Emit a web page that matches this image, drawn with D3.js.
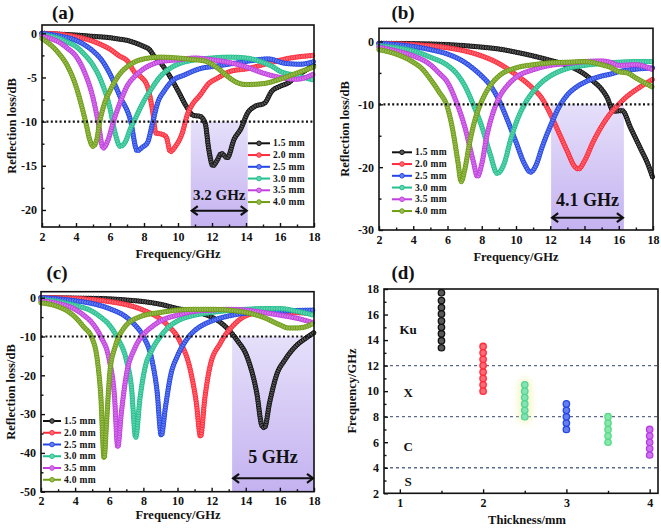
<!DOCTYPE html>
<html><head><meta charset="utf-8">
<script src="https://cdn.jsdelivr.net/npm/d3@7"></script>
<style>
body{margin:0;background:#fff}
svg{display:block}
text{font-family:"Liberation Serif","Times New Roman",serif;font-weight:bold;fill:#111}
</style>
</head><body>
<svg id="chart" width="661" height="530"></svg>
<script>
// ---------------- DATA ----------------
const thicknessLabels = ["1.5 mm","2.0 mm","2.5 mm","3.0 mm","3.5 mm","4.0 mm"];
const seriesColors = ["#111111","#ff2a3a","#2446e6","#22c08e","#c23ee0","#6e9e12"];

// Panel (a): [frequency GHz, reflection loss dB]
const a15 = [[2,0],[3,-0.1],[4,-0.2],[5,-0.35],[6,-0.5],[6.5,-0.65],[7,-0.8],[7.5,-1.1],[8,-1.5],[8.3,-1.8],[8.6,-2.6],[9,-3.4],[9.5,-4.8],[10,-6.5],[10.5,-8.3],[10.9,-9.3],[11.3,-9.4],[11.6,-10.2],[11.8,-13],[12.05,-15],[12.3,-14.4],[12.55,-13.6],[12.9,-14.1],[13.3,-12],[13.7,-10.8],[14.1,-9],[14.5,-8.3],[15.1,-7.9],[15.5,-6.6],[16,-6],[16.5,-5.6],[17,-4.8],[17.5,-4.2],[18,-3.6]];
const a20 = [[2,0],[3,-0.1],[4,-0.4],[5,-0.9],[5.5,-1.3],[6,-1.8],[6.5,-2.5],[7.1,-3.3],[7.4,-4.3],[7.8,-4.9],[8.2,-6],[8.5,-8.7],[8.7,-11.3],[9,-11.4],[9.3,-11.7],[9.55,-13.4],[9.85,-12.8],[10.25,-11.3],[10.55,-9.2],[10.8,-8.2],[11.3,-7],[11.8,-5.7],[12.3,-5.1],[13.1,-4.3],[14.1,-4],[15.3,-3.4],[16.6,-2.8],[18,-2.5]];
const a25 = [[2,0],[3,-0.3],[4,-0.8],[4.5,-1.3],[5,-2],[5.5,-3],[6,-4.6],[6.6,-7.2],[7.2,-9.8],[7.6,-13.3],[7.9,-12.9],[8.2,-12.4],[8.5,-10.2],[8.8,-7.9],[9.2,-6.5],[9.6,-5.5],[10.4,-4.7],[11.3,-4],[12.3,-3.7],[13.3,-3.4],[14.3,-3.1],[15.3,-2.9],[16.3,-3.4],[17.2,-3.5],[18,-3.2]];
const a30 = [[2,-0.2],[3,-0.6],[3.5,-1],[4,-1.5],[4.5,-2.4],[5,-3.6],[5.5,-5.5],[6,-8.5],[6.3,-11.3],[6.6,-12.8],[6.9,-12.3],[7.2,-10.8],[7.5,-9.6],[7.9,-8],[8.4,-6.4],[9,-4.8],[9.5,-4],[10,-3.5],[11,-3],[12,-2.8],[13,-2.7],[14,-2.8],[15,-3.3],[15.5,-3.7],[16,-4.3],[17,-4.8],[18,-5.3]];
const a35 = [[2,-0.3],[2.5,-0.6],[3,-1],[3.5,-1.7],[4,-2.6],[4.5,-4.4],[5,-7.3],[5.3,-10],[5.6,-13],[5.9,-12],[6.2,-10],[6.6,-7.8],[7,-6],[7.5,-4.8],[8,-4],[8.5,-3.5],[9,-3.2],[10,-3],[11,-2.8],[12,-3],[13,-3.3],[14,-3.8],[15,-4.5],[16,-5],[17,-5.2],[18,-4.6]];
const a40 = [[2,-0.6],[2.5,-1.3],[3,-2.3],[3.5,-3.7],[4,-6],[4.3,-8],[4.6,-10.3],[4.8,-12],[5,-12.8],[5.2,-12.2],[5.4,-10],[5.7,-7.8],[6,-6.5],[6.5,-4.8],[7,-3.8],[7.5,-3.2],[8,-2.9],[9,-2.7],[10,-2.8],[11,-3],[11.5,-3.1],[12,-3.5],[12.5,-4.2],[13,-5],[13.5,-5.6],[14,-5.8],[15,-5.7],[16,-5.2],[17,-4.5],[18,-3.8]];

// Panel (b)
const b15 = [[2,-0.3],[4,-0.35],[6,-0.5],[8,-0.9],[9,-1.2],[10,-1.7],[11,-2.3],[12,-3],[13,-3.8],[13.5,-4.4],[14,-5.2],[14.5,-6.3],[15,-7.6],[15.3,-8.8],[15.7,-11.1],[16.2,-11],[16.7,-13.8],[17.3,-17.2],[17.7,-19.5],[18,-21.8]];
const b20 = [[2,-0.3],[4,-0.5],[6,-1],[7,-1.5],[8,-2.3],[9,-3.5],[10,-5.3],[10.5,-6.3],[11,-7.5],[11.5,-9],[12,-11.5],[12.5,-14.5],[13,-17.5],[13.4,-19.8],[13.65,-20.3],[14,-19],[14.5,-16],[15,-13.5],[15.5,-11.5],[16,-10],[16.5,-8.7],[17,-7.7],[17.5,-6.8],[18,-6]];
const b25 = [[2,-0.3],[3,-0.5],[4,-0.8],[5,-1.3],[6,-2],[7,-3.3],[7.5,-4.3],[8,-5.5],[8.5,-7],[9,-9.3],[9.5,-12.5],[10,-16],[10.5,-19.5],[10.85,-20.8],[11.2,-19.5],[11.5,-17],[12,-13.5],[12.5,-10.5],[13,-8.5],[13.5,-7.3],[14,-6.5],[15,-5.5],[15.5,-5.2],[16,-4.8],[17,-4.4],[18,-4.2]];
const b30 = [[2,-0.7],[3,-1],[4,-1.5],[5,-2.5],[6,-3.8],[6.5,-5],[7,-7],[7.5,-10],[8,-13.5],[8.5,-18],[8.9,-21],[9.3,-19.5],[9.7,-15.5],[10,-13],[10.5,-10],[11,-8],[11.5,-6.5],[12,-5.5],[13,-4.3],[14,-3.8],[15,-3.5],[16,-3.3],[17,-3.2],[18,-3.2]];
const b35 = [[2,-0.9],[3,-1.5],[4,-2.3],[5,-3.7],[5.5,-5],[6,-6.5],[6.5,-9.5],[7,-13.5],[7.5,-19],[7.75,-21.5],[8,-19.5],[8.3,-15],[8.7,-11],[9,-9],[9.5,-7],[10,-5.7],[11,-4.5],[12,-3.8],[13,-3.5],[14,-3.2],[15,-3.1],[15.5,-3.3],[16,-3.8],[17,-3.7],[18,-4.5]];
const b40 = [[2,-1.3],[3,-2],[4,-3.3],[4.5,-4.3],[5,-6],[5.5,-8],[6,-10.5],[6.3,-14],[6.6,-19],[6.8,-22.3],[7,-20.5],[7.3,-16],[7.6,-12.5],[8,-9.5],[8.5,-7],[9,-5.5],[10,-4.2],[11,-3.7],[12,-3.4],[13,-3.3],[14,-3.2],[15,-3.7],[15.5,-4.1],[16,-4.8],[16.5,-5],[17,-5.8],[18,-7.3]];

// Panel (c)
const c15 = [[2,0],[4,-0.1],[6,-0.3],[7,-0.6],[8,-1],[9,-1.7],[10,-2.8],[11,-3.6],[12,-5],[12.5,-6.3],[13,-8.3],[13.5,-11],[14.1,-15.5],[14.65,-24.7],[14.95,-33],[15.1,-33.5],[15.4,-27],[15.8,-20],[16.3,-16],[17,-12.2],[17.5,-10.5],[18,-9]];
const c20 = [[2,0],[4,-0.2],[5,-0.5],[6,-1],[7,-1.8],[8,-3.2],[9,-5.5],[9.4,-7],[10.15,-11.3],[10.75,-18.6],[11.1,-27],[11.35,-35.8],[11.6,-26],[11.9,-17.8],[12.5,-11.8],[13.3,-7],[14.1,-4.5],[15.3,-3.6],[16.5,-3.8],[18,-4]];
const c25 = [[2,0],[3,-0.3],[4,-0.8],[5,-1.5],[6,-2.8],[7,-5],[7.5,-7],[8,-10],[8.5,-16],[8.8,-24],[9.05,-35.5],[9.3,-28],[9.6,-20],[10,-15],[10.5,-11],[11,-8.5],[11.5,-7],[12,-6],[13,-4.7],[14,-4],[15,-3.8],[16,-3.5],[17,-3.3],[18,-3.2]];
const c30 = [[2,-0.5],[3,-1],[4,-2],[5,-3.5],[5.5,-5],[6,-7],[6.5,-10.5],[7,-16],[7.3,-23],[7.55,-36],[7.8,-26],[8.1,-18],[8.5,-13.5],[9,-10],[9.5,-7.5],[10,-6],[11,-4.5],[12,-3.8],[13,-3.3],[14,-3],[15,-2.8],[16,-2.8],[17,-3.5],[18,-4.5]];
const c35 = [[2,-0.8],[3,-1.5],[4,-3],[4.5,-4.5],[5,-6.5],[5.5,-10],[6,-16],[6.3,-25],[6.5,-38.5],[6.7,-30],[7,-20],[7.5,-13],[8,-9.5],[8.5,-7.5],[9,-6],[10,-4.5],[11,-3.5],[12,-3.2],[13,-3],[14,-3.2],[15,-3.8],[16,-4.5],[17,-5.3],[18,-6.5]];
const c40 = [[2,-1.3],[3,-2.3],[3.5,-3.3],[4,-5],[4.5,-7.5],[5,-10.5],[5.3,-16],[5.5,-25],[5.7,-41.3],[5.85,-31.5],[6.05,-18.6],[6.35,-12.6],[6.85,-7.9],[7.8,-4.9],[9,-3.8],[10,-3.2],[11,-3],[12,-3],[13,-3.2],[14,-3.8],[15,-5],[16,-7],[16.5,-7.8],[17,-7.8],[17.5,-7.5],[18,-6.5]];

// Effective-bandwidth annotations [start GHz, end GHz]
const bandA = [10.75, 14.1], bandLabelA = "3.2 GHz";
const bandB = [12.05, 16.3], bandLabelB = "4.1 GHz";
const bandC = [13.2, 18.0], bandLabelC = "5 GHz";

// Panel (d)
const dThickness = [1.5, 2.0, 2.5, 3.0, 3.5, 4.0];
const dFrequencies = [
  [13.4,13.95,14.5,15.0,15.5,16.05,16.55,17.1,17.7],
  [10,10.5,11,11.5,12,12.5,13,13.5],
  [8,8.5,9,9.5,10,10.5],
  [7,7.5,8,8.5,9],
  [6,6.5,7,7.5,8],
  [5,5.5,6,6.5,7]
];
const dColors = ["#111111","#ff2a3a","#4fd694","#2446e6","#55dc86","#b83ae6"];
const bandLimits = [12, 8, 4];
const bandNames = ["Ku","X","C","S"];
const bandNameY = [14.8, 9.9, 5.7, 2.9];

const freqTicks = [2,4,6,8,10,12,14,16,18];
const freqMinor = [3,5,7,9,11,13,15,17];

// ---------------- DRAWING ----------------
const svg = d3.select("#chart");
const defs = svg.append("defs");
const grad = defs.append("linearGradient").attr("id","shade").attr("x1",0).attr("y1",0).attr("x2",0).attr("y2",1);
grad.append("stop").attr("offset","0%").attr("stop-color","#e6e0fa");
grad.append("stop").attr("offset","100%").attr("stop-color","#c4b2f0");
const glow = defs.append("filter").attr("id","glow").attr("x","-1").attr("y","-1").attr("width","3").attr("height","3");
glow.append("feGaussianBlur").attr("stdDeviation",3);

const light = c => d3.interpolateRgb(c, "#ffffff")(0.3);

function frame(g, x0, x1, y0, y1){
  g.append("rect").attr("x",x0).attr("y",y0).attr("width",x1-x0).attr("height",y1-y0)
    .attr("fill","none").attr("stroke","#111").attr("stroke-width",1.6);
}

function axes(g, x, y, cfg){
  const xa = g.append("g").attr("transform",`translate(0,${cfg.y1})`)
    .call(d3.axisBottom(x).tickValues(cfg.xTicks).tickSize(-4).tickPadding(5).tickFormat(d3.format("d")));
  const xm = g.append("g").attr("transform",`translate(0,${cfg.y1})`)
    .call(d3.axisBottom(x).tickValues(cfg.xMinor).tickSize(-2.5).tickFormat(""));
  const ya = g.append("g").attr("transform",`translate(${cfg.x0},0)`)
    .call(d3.axisLeft(y).tickValues(cfg.yTicks).tickSize(-4).tickPadding(5).tickFormat(d3.format("d")));
  const ym = g.append("g").attr("transform",`translate(${cfg.x0},0)`)
    .call(d3.axisLeft(y).tickValues(cfg.yMinor).tickSize(-2.5).tickFormat(""));
  [xa,xm,ya,ym].forEach(a=>{
    a.select(".domain").remove();
    a.selectAll("line").attr("stroke","#111").attr("stroke-width",1.4);
    a.selectAll("text").attr("font-size",12).attr("fill","#111")
      .style("font-family","'Liberation Serif','Times New Roman',serif").style("font-weight","bold");
  });
  ya.selectAll("text").text(d => d < 0 ? "-" + Math.abs(d) : d);
}

function titles(cfg){
  svg.append("text").attr("x",cfg.xTitle[0]).attr("y",cfg.xTitle[1]).attr("text-anchor","middle")
    .attr("font-size",12.5).text(cfg.xLabel);
  svg.append("text").attr("transform",`translate(${cfg.yTitle[0]},${cfg.yTitle[1]}) rotate(-90)`)
    .attr("text-anchor","middle").attr("dominant-baseline","central").attr("font-size",12.5).text(cfg.yLabel);
  svg.append("text").attr("x",cfg.tag[0]).attr("y",cfg.tag[1]).attr("text-anchor","middle")
    .attr("font-size",19).text(cfg.tagText);
}

function linePanel(cfg){
  const g = svg.append("g");
  const x = d3.scaleLinear().domain([2,18]).range([cfg.x0,cfg.x1]);
  const y = d3.scaleLinear().domain(cfg.yDom).range([cfg.y1,cfg.y0]);

  // shaded bandwidth
  g.append("rect").attr("x",x(cfg.band[0])).attr("y",y(-10))
    .attr("width",x(cfg.band[1])-x(cfg.band[0])).attr("height",y(cfg.yDom[0])-y(-10))
    .attr("fill","url(#shade)");

  // curves with dense markers
  const line = d3.line().x(d=>x(d[0])).y(d=>y(d[1])).curve(d3.curveMonotoneX);
  cfg.series.forEach((s,i)=>{
    const p = g.append("path").datum(s).attr("d",line).attr("fill","none")
      .attr("stroke",seriesColors[i]).attr("stroke-width",1.8);
    const node = p.node(), L = node.getTotalLength();
    const pts = d3.range(0, L, 2.5).map(l=>node.getPointAtLength(l));
    g.append("g").selectAll("circle").data(pts).join("circle")
      .attr("cx",q=>q.x).attr("cy",q=>q.y).attr("r",2.2)
      .attr("fill",light(seriesColors[i])).attr("stroke",seriesColors[i]).attr("stroke-width",1);
  });

  // -10 dB dotted line
  g.append("line").attr("x1",cfg.x0).attr("x2",cfg.x1).attr("y1",y(-10)).attr("y2",y(-10))
    .attr("stroke","#111").attr("stroke-width",2.2).attr("stroke-dasharray","2,2.4");

  // double arrow
  const ax0 = x(cfg.band[0]), ax1 = x(cfg.band[1]), ay = cfg.arrowY;
  g.append("line").attr("x1",ax0+1).attr("x2",ax1-1).attr("y1",ay).attr("y2",ay)
    .attr("stroke","#111").attr("stroke-width",2);
  g.append("path").attr("d",`M${ax0+7},${ay-4.5} L${ax0+1},${ay} L${ax0+7},${ay+4.5}`)
    .attr("fill","none").attr("stroke","#111").attr("stroke-width",2.2);
  g.append("path").attr("d",`M${ax1-7},${ay-4.5} L${ax1-1},${ay} L${ax1-7},${ay+4.5}`)
    .attr("fill","none").attr("stroke","#111").attr("stroke-width",2.2);
  g.append("text").attr("x",(ax0+ax1)/2).attr("y",cfg.bwY).attr("text-anchor","middle")
    .attr("font-size",cfg.bwSize).text(cfg.bwText);

  // legend
  const lg = g.append("g");
  thicknessLabels.forEach((t,i)=>{
    const ly = cfg.leg[1] + i*11.75;
    lg.append("line").attr("x1",cfg.leg[0]).attr("x2",cfg.leg[0]+cfg.legW).attr("y1",ly).attr("y2",ly)
      .attr("stroke",seriesColors[i]).attr("stroke-width",2);
    lg.append("circle").attr("cx",cfg.leg[0]+cfg.legW/2).attr("cy",ly).attr("r",2.3)
      .attr("fill",light(seriesColors[i])).attr("stroke",seriesColors[i]).attr("stroke-width",1);
    lg.append("text").attr("x",cfg.leg[0]+cfg.legW+3).attr("y",ly).attr("dominant-baseline","central")
      .attr("font-size",9.5).attr("letter-spacing",0.3).text(t);
  });

  frame(g, cfg.x0, cfg.x1, cfg.y0, cfg.y1);
  axes(g, x, y, {x0:cfg.x0, y1:cfg.y1, xTicks:freqTicks, xMinor:freqMinor, yTicks:cfg.yTicks, yMinor:cfg.yMinor});
  titles(cfg);
}

linePanel({
  x0:42, x1:314, y0:25, y1:227, yDom:[-21.93,0.94],
  yTicks:[-20,-15,-10,-5,0], yMinor:[-17.5,-12.5,-7.5,-2.5],
  series:[a15,a20,a25,a30,a35,a40], band:bandA, bwText:bandLabelA, bwY:200, bwSize:15, arrowY:210.7,
  leg:[248,143.3], legW:22,
  xTitle:[178,258], yTitle:[12,126], xLabel:"Frequency/GHz", yLabel:"Reflection loss/dB",
  tag:[63,19], tagText:"(a)"
});
linePanel({
  x0:379, x1:653, y0:28.3, y1:230, yDom:[-30,2.1],
  yTicks:[-30,-20,-10,0], yMinor:[-25,-15,-5],
  series:[b15,b20,b25,b30,b35,b40], band:bandB, bwText:bandLabelB, bwY:206, bwSize:18, arrowY:217.7,
  leg:[392,152.3], legW:20,
  xTitle:[516,261], yTitle:[345,129], xLabel:"Frequency/GHz", yLabel:"Reflection loss/dB",
  tag:[403,19], tagText:"(b)"
});
linePanel({
  x0:41, x1:314, y0:291.7, y1:491.7, yDom:[-50,1.55],
  yTicks:[-50,-40,-30,-20,-10,0], yMinor:[-45,-35,-25,-15,-5],
  series:[c15,c20,c25,c30,c35,c40], band:bandC, bwText:bandLabelC, bwY:463, bwSize:18, arrowY:478.3,
  leg:[43,421], legW:18,
  xTitle:[178,519], yTitle:[11,392], xLabel:"Frequency/GHz", yLabel:"Reflection loss/dB",
  tag:[57,279], tagText:"(c)"
});

// Panel (d)
(function(){
  const x0=384, x1=658, y0=289, y1=493.3;
  const g = svg.append("g");
  const x = d3.scaleLinear().domain([0.81,4.1]).range([x0,x1]);
  const y = d3.scaleLinear().domain([2,18]).range([y1,y0]);
  bandLimits.forEach(v=>{
    g.append("line").attr("x1",x0).attr("x2",x1).attr("y1",y(v)).attr("y2",y(v))
      .attr("stroke","#5a6a8c").attr("stroke-width",1.3).attr("stroke-dasharray","3,3");
  });
  // faint glow behind the 2.5 mm column
  const gl = dFrequencies[2];
  g.append("rect").attr("x",x(dThickness[2])-6).attr("y",y(d3.max(gl))-6).attr("width",12)
    .attr("height",y(d3.min(gl))-y(d3.max(gl))+12).attr("rx",6)
    .attr("fill","#f2f0a0").attr("opacity",0.7).attr("filter","url(#glow)");
  dThickness.forEach((t,i)=>{
    g.append("g").selectAll("circle").data(dFrequencies[i]).join("circle")
      .attr("cx",x(t)).attr("cy",d=>y(d)).attr("r",3.2)
      .attr("fill",light(dColors[i])).attr("stroke",dColors[i]).attr("stroke-width",1.3);
  });
  bandNames.forEach((n,i)=>{
    g.append("text").attr("x",x(1.1)).attr("y",y(bandNameY[i])).attr("text-anchor","middle")
      .attr("dominant-baseline","central").attr("font-size",13).text(n);
  });
  frame(g, x0, x1, y0, y1);
  axes(g, x, y, {x0:x0, y1:y1, xTicks:[1,2,3,4], xMinor:[1.5,2.5,3.5],
    yTicks:[2,4,6,8,10,12,14,16,18], yMinor:[3,5,7,9,11,13,15,17]});
  titles({xTitle:[527,524], yTitle:[352,391], xLabel:"Thickness/mm", yLabel:"Frequency/GHz",
    tag:[403,279], tagText:"(d)"});
})();
</script>
</body></html>
